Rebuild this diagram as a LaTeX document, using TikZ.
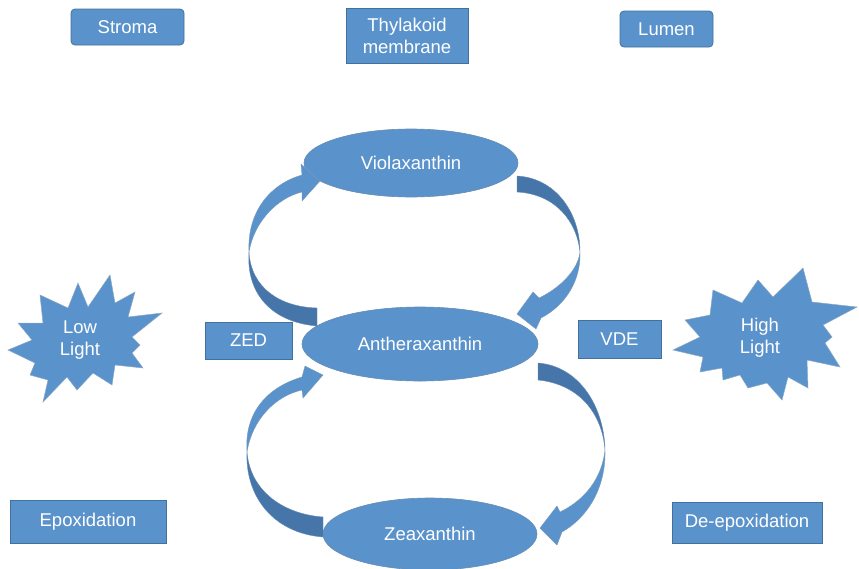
\documentclass[tikz,border=0pt]{standalone}
\usepackage{fontspec}
\setmainfont{Liberation Sans}
\usetikzlibrary{shapes.geometric}

\definecolor{pptblue}{HTML}{5A92CB}
\definecolor{pptedge}{HTML}{41719C}
\definecolor{pptdark}{HTML}{4675AA}

\begin{document}
\begin{tikzpicture}[
  x=1pt, y=-1pt,
  every node/.style={text=white, font=\fontsize{18.5}{22}\selectfont, align=center},
  labelbox/.style={draw=pptedge, fill=pptblue, line width=0.8pt, inner sep=0pt},
  pigment/.style={ellipse, draw=pptedge!80, fill=pptblue, line width=0.6pt, inner sep=0pt},
  burst/.style={fill=pptblue, draw=pptedge!60, line width=0.5pt},
  ribbon/.style={fill=pptblue, draw=pptedge!70, line width=0.4pt},
  ribbon dark/.style={fill=pptdark, draw=pptedge!80, line width=0.4pt}
]
  \useasboundingbox (0,0) rectangle (859,568);

  % compartments
  \node[labelbox, rounded corners=4pt, minimum width=113pt, minimum height=36pt] (stroma) at (127.5,27) {Stroma};
  \node[labelbox, minimum width=122pt, minimum height=55pt] (thyl) at (407,35.5) {Thylakoid\\membrane};
  \node[labelbox, rounded corners=4pt, minimum width=93pt, minimum height=36pt] (lumen) at (666.5,29) {Lumen};

  % xanthophyll pool
  \node[pigment, minimum width=214pt, minimum height=68pt] (viol) at (411,163) {Violaxanthin};
  \node[pigment, minimum width=236pt, minimum height=74pt] (anth) at (420,344) {Antheraxanthin};
  \node[pigment, minimum width=214pt, minimum height=72pt] (zea) at (430,534) {Zeaxanthin};

  % enzymes and directions
  \node[labelbox, minimum width=87pt, minimum height=37pt] (zed) at (248.5,340.5) {ZED};
  \node[labelbox, minimum width=83pt, minimum height=38pt] (vde) at (619.5,339) {VDE};
  \node[labelbox, minimum width=156pt, minimum height=43pt] (epox) at (88,521.5) {Epoxidation};
  \node[labelbox, minimum width=150pt, minimum height=41pt] (deepox) at (747,522.5) {De-epoxidation};

  % light conditions
  \draw[burst] plot coordinates {(110,275) (115,303) (135,292) (128,317) (162,313)
    (132,337) (140,345) (132,353) (143,368) (115,365) (112,385) (93,373) (77,390)
    (67,377) (43,402) (48,380) (30,375) (35,363) (8,350) (32,340) (18,323) (43,323)
    (40,295) (68,308) (78,283) (88,307)} -- cycle;
  \node (lowlight) at (80,340) {Low\\Light};

  \draw[burst] plot coordinates {(803,268) (812,302) (857,307) (823,325) (832,337)
    (825,343) (840,367) (807,360) (808,388) (788,377) (782,400) (767,383) (748,388)
    (740,375) (723,380) (722,368) (700,372) (703,357) (673,350) (700,337) (685,320)
    (710,315) (713,290) (742,303) (758,280) (773,297)} -- cycle;
  \node (highlight) at (760,338) {High\\Light};

  % anth -> viol (epoxidation, left)
  \draw[ribbon dark] (249,252) .. controls (251,288) and (280,307) .. (317,308)
    -- (317,326) .. controls (270,322) and (246,292) .. (249,252) -- cycle;
  \draw[ribbon] (249,252) .. controls (247,212) and (270,184) .. (302,175)
    -- (301,164) -- (320,181) -- (302,201) -- (302,192)
    .. controls (277,198) and (254,222) .. (249,252) -- cycle;

  % viol -> anth (de-epoxidation, right)
  \draw[ribbon dark] (517,176) .. controls (555,178) and (580,212) .. (580,252)
    .. controls (577,222) and (556,194) .. (517,192) -- cycle;
  \draw[ribbon] (580,252) .. controls (581,280) and (566,305) .. (541,318)
    -- (536,329) -- (517,314) -- (533,292) -- (539,298)
    .. controls (560,288) and (578,270) .. (580,252) -- cycle;

  % zea -> anth (epoxidation, left)
  \draw[ribbon dark] (247,452) .. controls (250,490) and (282,514) .. (323,517)
    -- (323,537) .. controls (272,533) and (245,495) .. (247,452) -- cycle;
  \draw[ribbon] (247,452) .. controls (244,412) and (268,387) .. (302,377)
    -- (305,366) -- (323,375) -- (303,398) -- (302,390)
    .. controls (275,396) and (252,420) .. (247,452) -- cycle;

  % anth -> zea (de-epoxidation, right)
  \draw[ribbon dark] (538,363) .. controls (578,366) and (604,405) .. (605,450)
    .. controls (602,412) and (578,384) .. (538,380) -- cycle;
  \draw[ribbon] (605,450) .. controls (606,485) and (590,516) .. (562,532)
    -- (557,545) -- (540,528) -- (557,506) -- (560,512)
    .. controls (585,500) and (602,478) .. (605,450) -- cycle;
\end{tikzpicture}
\end{document}
